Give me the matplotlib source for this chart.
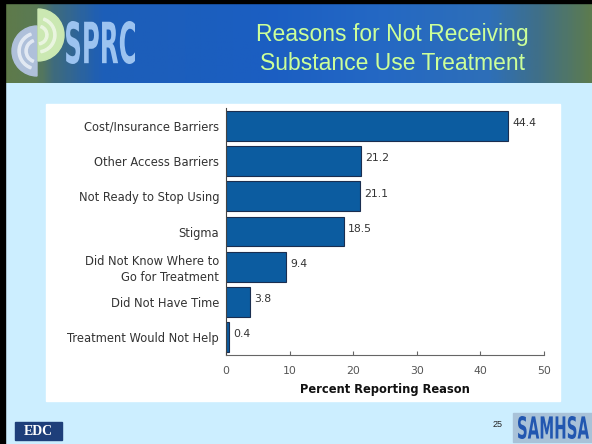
import numpy as np
import matplotlib
matplotlib.use("Agg")
import matplotlib.pyplot as plt
from matplotlib.patches import Rectangle, Wedge, PathPatch
from matplotlib.colors import LinearSegmentedColormap
from matplotlib.textpath import TextPath
from matplotlib.font_manager import FontProperties
from matplotlib.transforms import Affine2D

categories = ["Cost/Insurance Barriers", "Other Access Barriers", "Not Ready to Stop Using",
              "Stigma", "Did Not Know Where to\nGo for Treatment", "Did Not Have Time",
              "Treatment Would Not Help"]
values = [44.4, 21.2, 21.1, 18.5, 9.4, 3.8, 0.4]
xticks = [0, 10, 20, 30, 40, 50]

W, H = 592, 444
fig = plt.figure(figsize=(W / 100, H / 100), dpi=100)
fig.patch.set_facecolor("#CCEEFF")

def px(x0, y0, w, h):
    return [x0 / W, 1 - (y0 + h) / H, w / W, h / H]

# white panel (background axes)
bg = fig.add_axes([0, 0, 1, 1], zorder=-10)
bg.set_axis_off()
bg.set_xlim(0, W); bg.set_ylim(H, 0)
bg.add_patch(Rectangle((46, 104), 560 - 46, 401 - 104, color="white"))

# header gradient
hax = fig.add_axes(px(0, 0, W, 83))
hax.set_axis_off()
cmap = LinearSegmentedColormap.from_list("hdr", [
    (0.0, "#5F7A48"), (0.06, "#5A7A55"), (0.09, "#3E6B7E"), (0.17, "#1D5EB8"), (0.45, "#1B5EC2"),
    (0.64, "#2468C4"), (0.83, "#2E6FB8"), (0.91, "#3F6F8A"), (1.0, "#5C7B50")])
grad = np.linspace(0, 1, 300).reshape(1, -1)
hax.imshow(grad, aspect="auto", cmap=cmap, extent=[0, 1, 0, 1])
hax.set_xlim(0, 1); hax.set_ylim(0, 1)

# overlay in pixel coords
ov = fig.add_axes([0, 0, 1, 1], zorder=5)
ov.set_axis_off()
ov.set_xlim(0, W); ov.set_ylim(H, 0)
ov.patch.set_alpha(0)

def fit_text(s, x0, y0, x1, y1, color, weight="normal", family="DejaVu Sans"):
    tp = TextPath((0, 0), s, size=1, prop=FontProperties(family=family, weight=weight))
    ext = tp.get_extents()
    sx = (x1 - x0) / ext.width
    sy = (y1 - y0) / ext.height
    tr = Affine2D().translate(-ext.x0, -ext.y0).scale(sx, -sy).translate(x0, y1)
    ov.add_patch(PathPatch(tr.transform_path(tp), color=color, lw=0))

# black borders
ov.add_patch(Rectangle((0, 0), 5, H, color="black"))
ov.add_patch(Rectangle((0, 0), W, 3, color="black"))

# logo
ov.add_patch(Wedge((37, 51), 25, 90, 270, color="#AFC0DA"))
for r in [19, 12]:
    ov.add_patch(Wedge((37, 51), r, 110, 250, width=2.2, color="#E2E9F3"))
ov.add_patch(Wedge((38, 35), 26, -90, 90, color="#CBE8B2"))
for r in [18, 10]:
    ov.add_patch(Wedge((38, 35), r, -70, 80, width=2.2, color="#EAF5E0"))

fit_text("SPRC", 66, 21, 135, 64, "#9CC3F0", weight="bold")

fig.text(392 / W, 1 - 35 / H, "Reasons for Not Receiving", color="#CCFF99", fontsize=16.5,
         family="Liberation Sans", ha="center", va="center")
fig.text(392 / W, 1 - 63 / H, "Substance Use Treatment", color="#CCFF99", fontsize=16.5,
         family="Liberation Sans", ha="center", va="center")

ax = fig.add_axes(px(226, 108, 318, 247))
ax.set_facecolor("white")
y = np.arange(len(categories))
ax.barh(y, values, height=0.85, color="#0C5CA0", edgecolor="#1A2E50", linewidth=0.8)
ax.set_ylim(len(categories) - 0.49, -0.51)
ax.set_xlim(0, 50)
ax.set_yticks(y)
ax.set_yticklabels(categories, fontsize=8.3, color="#333333", family="DejaVu Sans", linespacing=1.3)
ax.set_xticks(xticks)
ax.set_xticklabels([str(t) for t in xticks], fontsize=7.8, color="#555555", family="DejaVu Sans")
ax.tick_params(axis="y", length=0, pad=5)
ax.tick_params(axis="x", length=3, direction="in", color="#666666", pad=8)
for s in ["top", "right"]:
    ax.spines[s].set_visible(False)
ax.spines["left"].set_color("#444444")
ax.spines["bottom"].set_color("#666666")
for yi, v in zip(y, values):
    ax.text(v + 0.7, yi - 0.08, f"{v:.1f}", fontsize=7.8, color="#333333", va="center",
            family="DejaVu Sans")
ax.set_xlabel("Percent Reporting Reason", fontsize=8.3, fontweight="bold", color="#111111",
              family="DejaVu Sans", labelpad=5)

# footer
ov.add_patch(Rectangle((15, 422), 47, 18, color="#1E3F7A"))
fig.text(38 / W, 1 - 431 / H, "EDC", color="white", fontsize=10, family="Liberation Serif",
         fontweight="bold", ha="center", va="center", zorder=6)
fig.text(498 / W, 1 - 424 / H, "25", color="#222222", fontsize=6.5, family="Liberation Sans",
         ha="center", va="center")
ov.add_patch(Rectangle((513, 413), 79, 29, color="#A9C2D8"))
fit_text("SAMHSA", 518, 416, 589, 439, "#2257B0", weight="bold")

fig.savefig("out.png", dpi=100, facecolor=fig.get_facecolor())
